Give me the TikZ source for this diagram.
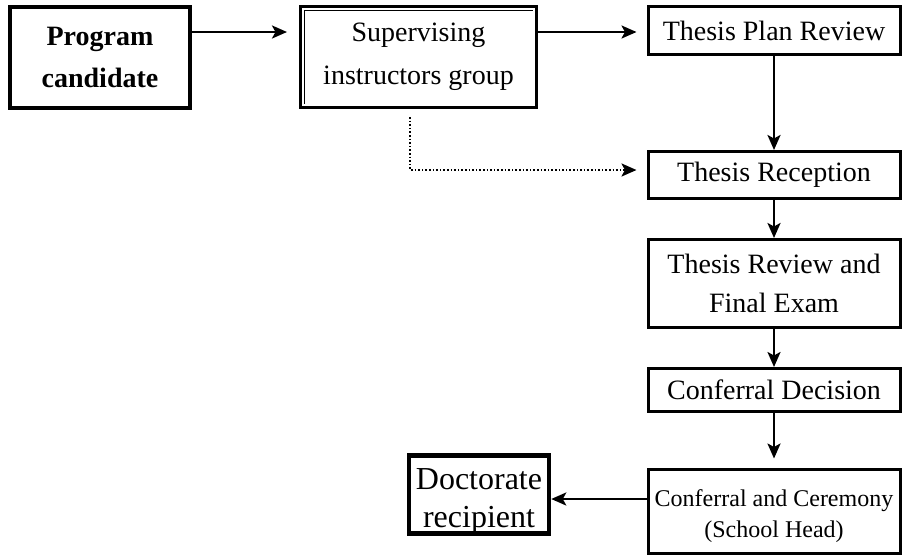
\documentclass[tikz,border=0pt]{standalone}
\usepackage{fontspec}
\setmainfont{Liberation Serif}
\usetikzlibrary{arrows.meta}
\begin{document}
\begin{tikzpicture}[x=1pt,y=-1pt,
  box/.style={draw, line width=3pt, inner sep=0pt, align=center},
  thickbox/.style={draw, line width=4.5pt, inner sep=0pt, align=center},
  arr/.style={line width=2.5pt, -{Stealth[length=15pt,width=13pt,inset=3.5pt]}},
  txt/.style={font=\fontsize{28}{41}\selectfont},
]
\useasboundingbox (0,0) rectangle (902,555);
% boxes
\node[thickbox, minimum width=180pt, minimum height=101pt, font=\fontsize{28}{42}\selectfont\bfseries] (prog) at (100,57.5) {Program\\candidate};
\node[draw, line width=3pt, inner sep=0pt, minimum width=236pt, minimum height=101pt, align=center, font=\fontsize{28}{43}\selectfont] (sup) at (418.5,57) {Supervising\\instructors group};
\draw[line width=1.3pt] ([shift={(5.5,-5.5)}]sup.south west) -- ([shift={(5.5,5.5)}]sup.north west) -- ([shift={(-5.5,5.5)}]sup.north east);
\draw[line width=1.5pt] ([shift={(-1.5,0)}]sup.north east) -- ([shift={(-1.5,-1.5)}]sup.south east) -- ([shift={(0,-1.5)}]sup.south west);
\node[box, minimum width=252pt, minimum height=48pt, txt] (tpr) at (774,30.5) {Thesis Plan Review};
\node[box, minimum width=252pt, minimum height=47pt, txt] (rec) at (774,175) {Thesis Reception};
\node[box, minimum width=252pt, minimum height=88pt, font=\fontsize{28}{39}\selectfont] (rev) at (774,283.5) {Thesis Review and\\Final Exam};
\node[box, minimum width=252pt, minimum height=84pt] (cer) at (774,511) {};
\node[font=\fontsize{24}{31}\selectfont, align=center, inner sep=0pt] (certxt) at ([yshift=-5pt]cer.center) {Conferral and Ceremony\\(School Head)};
\node[box, minimum width=252pt, minimum height=43pt, txt] (dec) at (774,390) {Conferral Decision};
\node[thickbox, minimum width=140pt, minimum height=78pt] (doc) at (479,494.5) {};
\node[font=\fontsize{32}{38}\selectfont, align=center, inner sep=0pt] (doctxt) at ([yshift=-7pt]doc.center) {Doctorate\\recipient};
% arrows
\draw[arr, shorten >=12pt] (prog.east |- 0,32) -- (sup.west |- 0,32);
\draw[arr, shorten >=10pt] (sup.east |- 0,32) -- (tpr.west |- 0,32);
\draw[arr] (tpr.south) -- (rec.north);
\draw[arr] (rec.south) -- (rev.north);
\draw[arr] (rev.south) -- (dec.north);
\draw[arr, shorten >=9pt] (dec.south) -- (cer.north);
\draw[arr] (cer.west |- 0,499) -- (doc.east |- 0,499);
\coordinate (dstart) at (410,117);
\draw[line width=1.6pt, dotted] (dstart) -- (410,170) -- ([xshift=-14pt]rec.west |- 0,170);
\draw[arr, shorten >=10pt] ([xshift=-16pt]rec.west |- 0,170) -- (rec.west |- 0,170);
\end{tikzpicture}
\end{document}
